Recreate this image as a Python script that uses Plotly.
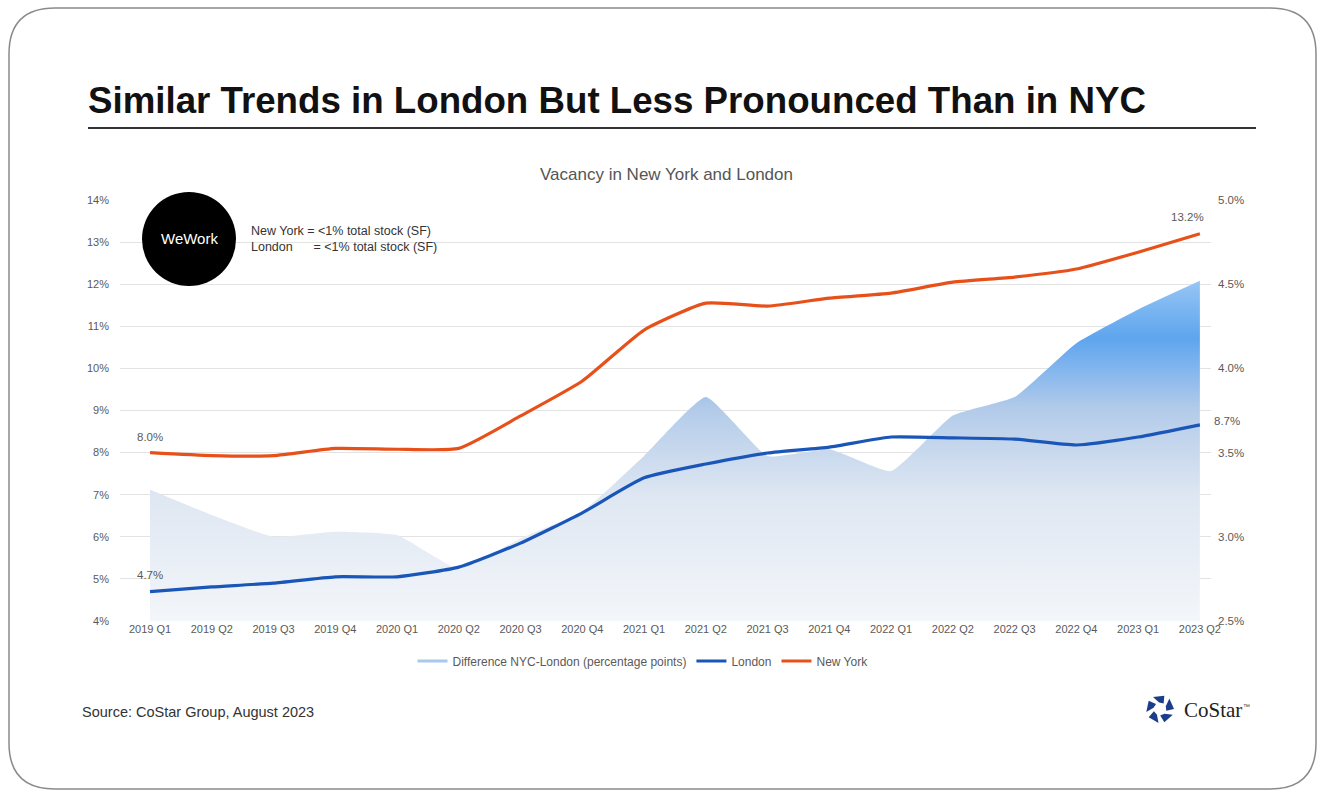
import math
import plotly.graph_objects as go

# ---------------- data ----------------
quarters = ["2019 Q1", "2019 Q2", "2019 Q3", "2019 Q4", "2020 Q1", "2020 Q2",
            "2020 Q3", "2020 Q4", "2021 Q1", "2021 Q2", "2021 Q3", "2021 Q4",
            "2022 Q1", "2022 Q2", "2022 Q3", "2022 Q4", "2023 Q1", "2023 Q2"]
new_york = [8.0, 7.93, 7.93, 8.1, 8.08, 8.1, 8.87, 9.7, 10.91, 11.55, 11.48, 11.67,
            11.79, 12.05, 12.17, 12.36, 12.76, 13.2]
london = [4.7, 4.81, 4.9, 5.05, 5.05, 5.28, 5.85, 6.57, 7.4, 7.73, 7.99, 8.13,
          8.37, 8.35, 8.32, 8.18, 8.37, 8.66]
difference = [3.28, 3.13, 3.0, 3.03, 3.01, 2.81, 2.99, 3.15, 3.48, 3.83, 3.48, 3.52,
              3.39, 3.72, 3.83, 4.15, 4.35, 4.52]
left_ticks = list(range(4, 15))
right_ticks = [2.5, 3.0, 3.5, 4.0, 4.5, 5.0]

# ---------------- layout geometry (pixels) ----------------
W, H = 1327, 793
L, R, T, B = 120, 116, 200, 172
PW, PH = W - L - R, H - T - B


def px(x):
    return (x - L) / PW


def py(y):
    return (H - B - y) / PH


GREY = "#5a5a5a"
NY_C = "#e8501a"
LON_C = "#1a56b8"

fig = go.Figure()

# difference area on base (right) axis
fig.add_trace(go.Scatter(
    x=quarters, y=difference, yaxis="y", mode="lines",
    line=dict(width=0, shape="spline", smoothing=0.4),
    fill="tozeroy",
    fillgradient=dict(type="vertical", start=2.5, stop=4.6,
                      colorscale=[[0.0, "#f3f6fa"], [0.35, "#dfe7f2"],
                                  [0.6, "#b3cbe9"], [0.72, "#7fb4ee"],
                                  [0.8, "#5ea5ee"], [1.0, "#a4cdf6"]]),
    showlegend=False, hoverinfo="skip"))
# legend proxy for the area
fig.add_trace(go.Scatter(x=[None], y=[None], mode="lines", yaxis="y",
                         line=dict(color="#a9c8ee", width=3),
                         name="Difference NYC-London (percentage points)"))
fig.add_trace(go.Scatter(
    x=quarters, y=london, yaxis="y2", mode="lines", name="London",
    line=dict(color=LON_C, width=3.2, shape="spline", smoothing=0.5)))
fig.add_trace(go.Scatter(
    x=quarters, y=new_york, yaxis="y2", mode="lines", name="New York",
    line=dict(color=NY_C, width=3.2, shape="spline", smoothing=0.5)))

n = len(quarters)
fig.update_layout(
    width=W, height=H,
    margin=dict(l=L, r=R, t=T, b=B, pad=0),
    paper_bgcolor="white", plot_bgcolor="white",
    font=dict(family="Liberation Sans, Arial, sans-serif", color=GREY, size=11),
    xaxis=dict(type="category", range=[-0.486, n - 1 + 0.18],
               showgrid=False, zeroline=False, showline=False, ticks="",
               tickfont=dict(size=11, color=GREY)),
    yaxis=dict(side="right", range=[2.5, 5.0], tickvals=right_ticks,
               ticktext=[f"{v:.1f}%" for v in right_ticks],
               showgrid=True, gridcolor="#e3e3e3", gridwidth=1,
               minor=dict(dtick=0.25, showgrid=True, gridcolor="#e3e3e3", gridwidth=1),
               zeroline=False, showline=False, ticks="",
               tickfont=dict(size=11.5, color=GREY), ticklabelstandoff=6),
    yaxis2=dict(side="left", overlaying="y", range=[4, 14], tickvals=left_ticks,
                ticktext=[f"{v}%" for v in left_ticks],
                showgrid=False, zeroline=False, showline=False, ticks="",
                tickfont=dict(size=11, color=GREY), ticklabelstandoff=10),
    legend=dict(orientation="h", x=px(643), xanchor="center", y=py(661), yanchor="middle",
                font=dict(size=12, color=GREY), itemwidth=30, bgcolor="rgba(0,0,0,0)",
                traceorder="normal"),
    showlegend=True,
)

ann = []
# title
ann.append(dict(text="<b>Similar Trends in London But Less Pronounced Than in NYC</b>",
                x=px(86), y=py(100), xref="paper", yref="paper", xanchor="left",
                yanchor="middle", showarrow=False,
                font=dict(size=36.7, color="#111111", family="Liberation Sans, Arial, sans-serif")))
ann.append(dict(text="Vacancy in New York and London", x=px(666), y=py(174),
                xref="paper", yref="paper", xanchor="center", yanchor="middle",
                showarrow=False, font=dict(size=17, color="#555555")))
ann.append(dict(text="Source: CoStar Group, August 2023", x=px(80), y=py(712),
                xref="paper", yref="paper", xanchor="left", yanchor="middle",
                showarrow=False, font=dict(size=14.5, color="#333333")))
ann.append(dict(text="WeWork", x=px(189), y=py(238), xref="paper", yref="paper",
                xanchor="center", yanchor="middle", showarrow=False,
                font=dict(size=15, color="white")))
ann.append(dict(text="New York = &lt;1% total stock (SF)<br>London      = &lt;1% total stock (SF)",
                x=px(249), y=py(239), xref="paper", yref="paper", xanchor="left",
                yanchor="middle", showarrow=False, align="left",
                font=dict(size=12.5, color="#333333")))
ann.append(dict(text="CoStar",
                x=px(1182), y=py(710), xref="paper", yref="paper",
                xanchor="left", yanchor="middle", showarrow=False,
                font=dict(size=21, color="#222222", family="Liberation Serif, Times New Roman, serif")))
ann.append(dict(text="™",
                x=px(1241), y=py(706), xref="paper", yref="paper",
                xanchor="left", yanchor="middle", showarrow=False,
                font=dict(size=7, color="#444444")))
# data labels
ann.append(dict(text=f"{new_york[0]:.1f}%", x=quarters[0], y=new_york[0], xref="x", yref="y2",
                showarrow=False, yshift=16, font=dict(size=11.5, color=GREY)))
ann.append(dict(text=f"{london[0]:.1f}%", x=quarters[0], y=london[0], xref="x", yref="y2",
                showarrow=False, yshift=17, font=dict(size=11.5, color=GREY)))
ann.append(dict(text=f"{new_york[-1]:.1f}%", x=quarters[-1], y=new_york[-1], xref="x", yref="y2",
                showarrow=False, yshift=17, xshift=-12, font=dict(size=11.5, color=GREY)))
ann.append(dict(text=f"{london[-1]:.1f}%", x=quarters[-1], y=london[-1], xref="x", yref="y2",
                showarrow=False, xanchor="left", xshift=12, yshift=4,
                font=dict(size=11.5, color=GREY)))
fig.update_layout(annotations=ann)

shapes = []
# rounded border
x0, y0, x1, y1, r = 9, 8, 1316, 789, 46
path = (f"M {px(x0 + r)},{py(y0)} L {px(x1 - r)},{py(y0)} "
        f"Q {px(x1)},{py(y0)} {px(x1)},{py(y0 + r)} "
        f"L {px(x1)},{py(y1 - r)} Q {px(x1)},{py(y1)} {px(x1 - r)},{py(y1)} "
        f"L {px(x0 + r)},{py(y1)} Q {px(x0)},{py(y1)} {px(x0)},{py(y1 - r)} "
        f"L {px(x0)},{py(y0 + r)} Q {px(x0)},{py(y0)} {px(x0 + r)},{py(y0)} Z")
shapes.append(dict(type="path", path=path, xref="paper", yref="paper",
                   line=dict(color="#8a8a8a", width=1.5), layer="below"))
# title underline
shapes.append(dict(type="line", xref="paper", yref="paper", x0=px(88), x1=px(1256),
                   y0=py(128), y1=py(128), line=dict(color="#333333", width=2)))
# WeWork circle
shapes.append(dict(type="circle", xref="paper", yref="paper", x0=px(142), x1=px(236),
                   y0=py(192), y1=py(286), fillcolor="black", line=dict(color="black", width=0),
                   layer="above"))
# CoStar icon: five segments around a ring
cx, cy = 1160, 709
for k in range(5):
    a = math.radians(-90 + 72 * k)
    pts = []
    for rad, da in [(14, -30), (14, 18), (6.5, 34), (6.5, -8)]:
        ang = a + math.radians(da)
        pts.append((cx + rad * math.cos(ang), cy + rad * math.sin(ang)))
    p = "M " + " L ".join(f"{px(u)},{py(v)}" for u, v in pts) + " Z"
    shapes.append(dict(type="path", path=p, xref="paper", yref="paper",
                       fillcolor="#1c3c8c", line=dict(width=0)))
fig.update_layout(shapes=shapes)

fig.write_html("out.html")
